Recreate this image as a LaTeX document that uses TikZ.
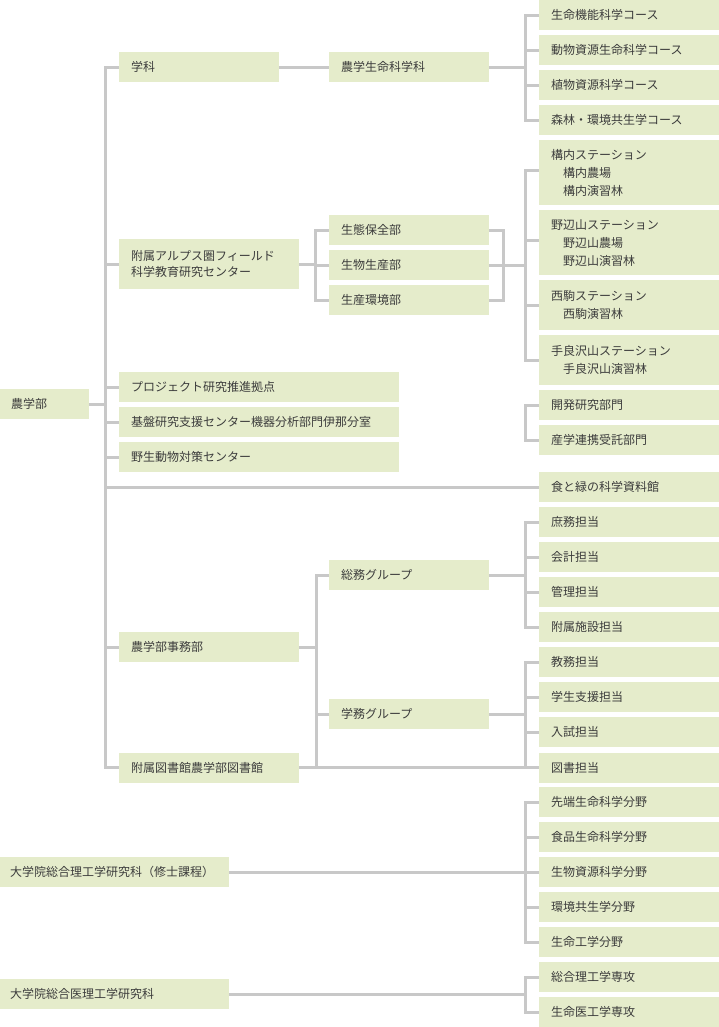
\documentclass[tikz,border=0pt]{standalone}
\usepackage{fontspec}
\newfontfamily\jp{Noto Sans CJK JP}
\definecolor{boxc}{HTML}{E5ECCB}
\definecolor{linec}{HTML}{C8C8C8}
\definecolor{txtc}{HTML}{3C3C3C}
\newcommand\jpf{\jp\fontsize{12}{18}\selectfont}
\tikzset{
  box/.style={fill=boxc, draw=none, anchor=north west, inner xsep=12pt, inner ysep=0pt,
    minimum height=30pt, align=left, text=txtc, font=\jpf},
  wR/.style={text width=156pt},
  wM/.style={text width=136pt},
  wL/.style={text width=156pt},
  wP/.style={text width=256pt},
  wG/.style={inner xsep=10pt, text width=209pt},
  conn/.style={draw=linec, line width=3pt}
}
\begin{document}
\begin{tikzpicture}[x=1pt,y=-1pt]
\useasboundingbox (0,0) rectangle (719,1027);
% right column
\node[box,wR] (c1) at (539,0) {生命機能科学コース};
\node[box,wR] (c2) at (539,35) {動物資源生命科学コース};
\node[box,wR] (c3) at (539,70) {植物資源科学コース};
\node[box,wR] (c4) at (539,105) {森林・環境共生学コース};
\node[box,wR,minimum height=65pt] (st1) at (539,140) {構内ステーション\\　構内農場\\　構内演習林};
\node[box,wR,minimum height=65pt] (st2) at (539,210) {野辺山ステーション\\　野辺山農場\\　野辺山演習林};
\node[box,wR,minimum height=50pt] (st3) at (539,280) {西駒ステーション\\　西駒演習林};
\node[box,wR,minimum height=50pt] (st4) at (539,335) {手良沢山ステーション\\　手良沢山演習林};
\node[box,wR] (kai) at (539,390) {開発研究部門};
\node[box,wR] (san) at (539,425) {産学連携受託部門};
\node[box,wR] (shoku) at (539,472) {食と緑の科学資料館};
\node[box,wR] (r1) at (539,507) {庶務担当};
\node[box,wR] (r2) at (539,542) {会計担当};
\node[box,wR] (r3) at (539,577) {管理担当};
\node[box,wR] (r4) at (539,612) {附属施設担当};
\node[box,wR] (r5) at (539,647) {教務担当};
\node[box,wR] (r6) at (539,682) {学生支援担当};
\node[box,wR] (r7) at (539,717) {入試担当};
\node[box,wR] (r8) at (539,752.5) {図書担当};
\node[box,wR] (b1) at (539,787) {先端生命科学分野};
\node[box,wR] (b2) at (539,822) {食品生命科学分野};
\node[box,wR] (b3) at (539,857) {生物資源科学分野};
\node[box,wR] (b4) at (539,892) {環境共生学分野};
\node[box,wR] (b5) at (539,927) {生命工学分野};
\node[box,wR] (m1) at (539,962) {総合理工学専攻};
\node[box,wR] (m2) at (539,997) {生命医工学専攻};
% middle column
\node[box,wM] (nlsc) at (329,52) {農学生命科学科};
\node[box,wM] (d1) at (329,215) {生態保全部};
\node[box,wM] (d2) at (329,250) {生物生産部};
\node[box,wM] (d3) at (329,285) {生産環境部};
\node[box,wM] (soumu) at (329,560) {総務グループ};
\node[box,wM] (gakumu) at (329,699) {学務グループ};
% left column
\node[box,wM] (gakka) at (119,52) {学科};
\node[box,wL,minimum height=50pt,font=\jp\fontsize{12}{16}\selectfont] (alps) at (119,239) {附属アルプス圏フィールド\\科学教育研究センター};
\node[box,wP] (proj) at (119,372) {プロジェクト研究推進拠点};
\node[box,wP] (kiban) at (119,407) {基盤研究支援センター機器分析部門伊那分室};
\node[box,wP] (yasei) at (119,442) {野生動物対策センター};
\node[box,wL] (jimu) at (119,632) {農学部事務部};
\node[box,wL] (lib) at (119,752.5) {附属図書館農学部図書館};
% far left
\node[box,inner xsep=11pt,text width=67pt] (nogakubu) at (0,389) {農学部};
\node[box,wG] (grad1) at (0,857) {大学院総合理工学研究科（修士課程）};
\node[box,wG] (grad2) at (0,979) {大学院総合医理工学研究科};
% bus coordinates
\coordinate (busT) at (105.5,0);
\coordinate (busA) at (315.5,0);
\coordinate (busD) at (503,0);
\coordinate (busJ) at (316.5,0);
\coordinate (busR) at (525,0);
% main trunk
\draw[conn] (gakka.west) -- (gakka.west -| busT) -- (lib.west -| busT) -- (lib.west);
\foreach \n in {alps,proj,kiban,yasei,jimu} \draw[conn] (\n.west) -- (\n.west -| busT);
\draw[conn] (nogakubu.east) -- (nogakubu.east -| busT);
\draw[conn] (shoku.west) -- (shoku.west -| busT);
% gakka
\draw[conn] (gakka.east) -- (nlsc.west);
\draw[conn] (c1.west) -- (c1.west -| busR) -- (c4.west -| busR) -- (c4.west);
\foreach \n in {c2,c3} \draw[conn] (\n.west) -- (\n.west -| busR);
\draw[conn] (nlsc.east) -- (nlsc.east -| busR);
% alps
\draw[conn] (alps.east) -- (alps.east -| busA);
\draw[conn] (d1.west) -- (d1.west -| busA) -- (d3.west -| busA) -- (d3.west);
\draw[conn] (d2.west) -- (d2.west -| busA);
\draw[conn] (d1.east) -- (d1.east -| busD) -- (d3.east -| busD) -- (d3.east);
\draw[conn] (d2.east) -- (d2.east -| busR);
\draw[conn] ([yshift=2.5pt]st1.west) -- ([yshift=2.5pt]st1.west -| busR) -- (st4.west -| busR) -- (st4.west);
\draw[conn] ([yshift=2.5pt]st2.west) -- ([yshift=2.5pt]st2.west -| busR);
\draw[conn] (st3.west) -- (st3.west -| busR);
% kaihatsu bracket
\draw[conn] (kai.west) -- (kai.west -| busR) -- (san.west -| busR) -- (san.west);
% jimu
\draw[conn] (jimu.east) -- (jimu.east -| busJ);
\draw[conn] (soumu.west) -- (soumu.west -| busJ) -- (lib.east -| busJ);
\draw[conn] (gakumu.west) -- (gakumu.west -| busJ);
\draw[conn] (lib.east) -- (r8.west);
\draw[conn] (r1.west) -- (r1.west -| busR) -- (r4.west -| busR) -- (r4.west);
\foreach \n in {r2,r3} \draw[conn] (\n.west) -- (\n.west -| busR);
\draw[conn] (soumu.east) -- (soumu.east -| busR);
\draw[conn] (r5.west) -- (r5.west -| busR) -- (r8.west -| busR);
\foreach \n in {r6,r7} \draw[conn] (\n.west) -- (\n.west -| busR);
\draw[conn] (gakumu.east) -- (gakumu.east -| busR);
% graduate
\draw[conn] (grad1.east) -- (b3.west);
\draw[conn] (b1.west) -- (b1.west -| busR) -- (b5.west -| busR) -- (b5.west);
\foreach \n in {b2,b4} \draw[conn] (\n.west) -- (\n.west -| busR);
\draw[conn] (grad2.east) -- (grad2.east -| busR);
\draw[conn] (m1.west) -- (m1.west -| busR) -- (m2.west -| busR) -- (m2.west);
\end{tikzpicture}
\end{document}
